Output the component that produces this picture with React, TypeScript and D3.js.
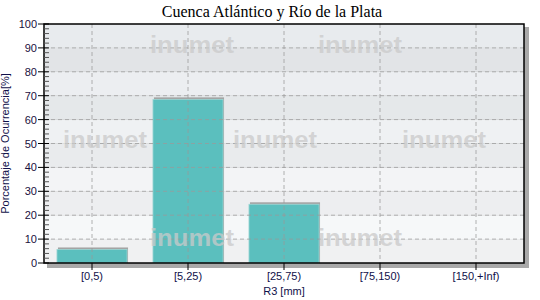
import React from "react";
import * as d3 from "d3";

const categories = ["[0,5)", "[5,25)", "[25,75)", "[75,150)", "[150,+Inf)"];
const values = [6.5, 69.3, 25.4, 0, 0];
const yTicks = [0, 10, 20, 30, 40, 50, 60, 70, 80, 90, 100];
const yMinorTicks = d3.range(0, 101, 2);
const title = "Cuenca Atlántico y Río de la Plata";
const xTitle = "R3 [mm]";
const yTitle = "Porcentaje de Ocurrencia[%]";
const watermark = "inumet";
const watermarkRows = [
  { y: 53, xs: [150, 318] },
  { y: 148, xs: [63, 233, 402] },
  { y: 246, xs: [150, 318] },
];

export default function App() {
  const W = 540, H = 300;
  const left = 44, right = 524, top = 24, bottom = 263;
  const x = d3.scaleBand<string>().domain(categories).range([left, right]).paddingInner(0.27).paddingOuter(0.135);
  const xc = d3.scalePoint<string>().domain(categories).range([left, right]).padding(0.5);
  const y = d3.scaleLinear().domain([0, 100]).range([bottom, top]);
  const bands = d3.range(0, 100, 10);
  const light = d3.scaleLinear<string>().domain([100, 0]).range(["#e7eaed", "#f9fafb"]);
  const dark = d3.scaleLinear<string>().domain([100, 0]).range(["#dfe2e5", "#f1f2f3"]);
  return (
    <svg width={W} height={H} style={{ position: "absolute", left: 0, top: 0 }} fontFamily="Liberation Sans, Arial, sans-serif">
      <rect x={0} y={0} width={W} height={H} fill="#fff" />
      <text x={272} y={17} textAnchor="middle" fontFamily="Liberation Serif, Times New Roman, serif" fontSize={16} fill="#000">{title}</text>
      {/* shadow */}
      <rect x={left + 3} y={top + 3} width={right - left + 2} height={bottom - top + 2} fill="#a9a9a9" />
      {/* background bands */}
      {bands.map((b) => (
        <rect key={b} x={left} y={y(b + 10)} width={right - left} height={y(b) - y(b + 10)} fill={(b / 10) % 2 === 0 ? dark(b + 5) : light(b + 5)} />
      ))}
      {/* bars */}
      {categories.map((c, i) => values[i] > 0 && (
        <g key={c}>
          <rect x={x(c)! + 1} y={y(values[i]) } width={x.bandwidth()} height={bottom - y(values[i])} fill="#a4a4a4" />
          <rect x={x(c)!} y={y(values[i]) + 2} width={x.bandwidth()} height={bottom - y(values[i]) - 2} fill="#5bbfbe" stroke="#9fd6d4" strokeWidth={0.8} />
        </g>
      ))}
      {/* grid */}
      {yTicks.slice(1, -1).map((t) => (
        <line key={t} x1={left} x2={right} y1={y(t)} y2={y(t)} stroke="#999" strokeOpacity={0.75} strokeDasharray="4,3" />
      ))}
      {categories.map((c) => (
        <line key={c} x1={xc(c)!} x2={xc(c)!} y1={top} y2={bottom} stroke="#999" strokeOpacity={0.75} strokeDasharray="4,3" />
      ))}
      {/* watermark */}
      {watermarkRows.map((r) => r.xs.map((wx) => (
        <text key={`${r.y}-${wx}`} x={wx} y={r.y} fontSize={24} fontWeight="bold" fill="#cacaca" fillOpacity={0.75} textLength={84} lengthAdjust="spacingAndGlyphs">{watermark}</text>
      )))}
      {/* frame */}
      <rect x={left} y={top} width={right - left} height={bottom - top} fill="none" stroke="#000" strokeWidth={1.5} />
      {/* y ticks */}
      {yMinorTicks.filter((t) => t % 10 !== 0).map((t) => (
        <line key={t} x1={left} x2={left + 5} y1={y(t)} y2={y(t)} stroke="#555" />
      ))}
      {yTicks.map((t) => (
        <g key={t}>
          <line x1={left - 6} x2={left + 5} y1={y(t)} y2={y(t)} stroke="#000" />
          <text x={left - 7} y={y(t) + 4} textAnchor="end" fontSize={11} fill="#1a1040">{t}</text>
        </g>
      ))}
      {/* x ticks */}
      {categories.map((c) => (
        <g key={c}>
          <line x1={xc(c)!} x2={xc(c)!} y1={bottom} y2={bottom + 7} stroke="#000" />
          <text x={xc(c)!} y={bottom + 17} textAnchor="middle" fontSize={11} fill="#10104a">{c}</text>
        </g>
      ))}
      <text x={284} y={295} textAnchor="middle" fontSize={11} fill="#10104a">{xTitle}</text>
      <text transform={`translate(9,${(top + bottom) / 2}) rotate(-90)`} textAnchor="middle" fontSize={11} fill="#10104a">{yTitle}</text>
    </svg>
  );
}
